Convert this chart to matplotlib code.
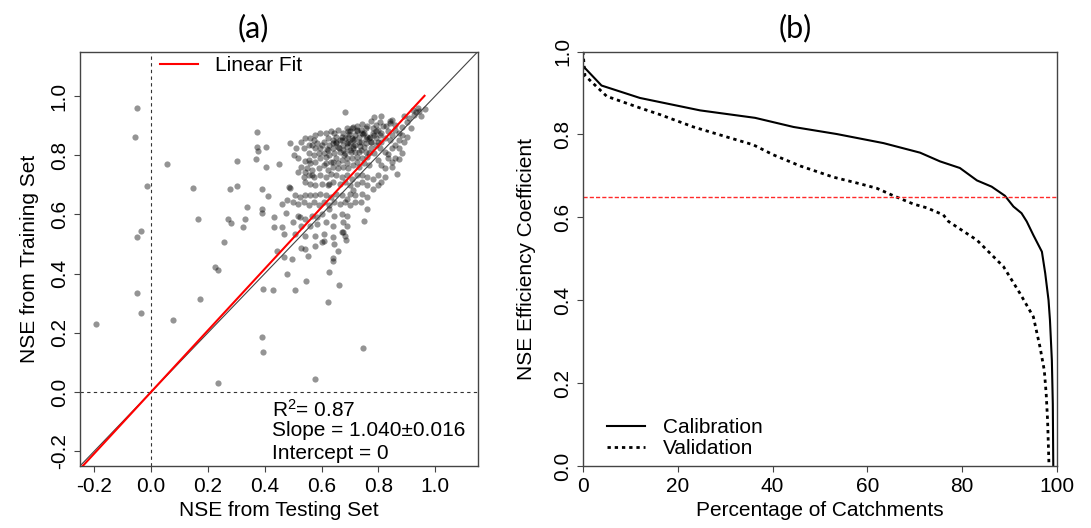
import numpy as np
import matplotlib
matplotlib.use("Agg")
import matplotlib.pyplot as plt

plt.rcParams['font.family'] = ['Liberation Sans', 'DejaVu Sans']
plt.rcParams['mathtext.fontset'] = 'custom'
plt.rcParams['mathtext.rm'] = 'Liberation Sans'

# NSE of catchments lying away from the main cloud (testing, training)
test_sparse = [-0.193, -0.048, -0.056, -0.013, -0.049, -0.037, -0.049, -0.034, 0.056, 0.076,
               0.149, 0.166, 0.173, 0.224, 0.234, 0.234, 0.255, 0.270, 0.277, 0.283,
               0.301, 0.304, 0.322, 0.329, 0.337, 0.368, 0.373, 0.373, 0.377, 0.389,
               0.389, 0.391, 0.391, 0.395, 0.395, 0.405, 0.405, 0.413, 0.429, 0.432,
               0.432, 0.444, 0.451, 0.459, 0.462, 0.476, 0.468, 0.480, 0.488, 0.490,
               0.495, 0.507, 0.502, 0.509, 0.517, 0.523, 0.527, 0.541, 0.544, 0.551,
               0.578, 0.578, 0.602, 0.609, 0.624, 0.627, 0.639, 0.639, 0.645, 0.657,
               0.661, 0.676, 0.685, 0.744, 0.749, 0.871]
train_sparse = [0.229, 0.958, 0.860, 0.696, 0.522, 0.543, 0.333, 0.268, 0.769, 0.243,
                0.690, 0.584, 0.315, 0.423, 0.411, 0.032, 0.507, 0.584, 0.687, 0.572,
                0.780, 0.695, 0.556, 0.584, 0.624, 0.787, 0.878, 0.826, 0.814, 0.618,
                0.605, 0.687, 0.186, 0.134, 0.349, 0.829, 0.761, 0.662, 0.343, 0.592,
                0.559, 0.476, 0.769, 0.559, 0.636, 0.605, 0.457, 0.399, 0.841, 0.689,
                0.448, 0.345, 0.801, 0.823, 0.789, 0.590, 0.487, 0.484, 0.374, 0.459,
                0.043, 0.493, 0.505, 0.511, 0.303, 0.404, 0.453, 0.442, 0.499, 0.476,
                0.362, 0.539, 0.514, 0.148, 0.579, 0.786]

# NSE of catchments in the main cloud (testing, training)
test_cluster = [0.682, 0.785, 0.810, 0.846, 0.840, 0.859, 0.889, 0.920, 0.938, 0.944,
                0.926, 0.950, 0.907, 0.932, 0.902, 0.883, 0.902, 0.871, 0.859, 0.840,
                0.822, 0.834, 0.816, 0.798, 0.773, 0.761, 0.743, 0.737, 0.724, 0.712,
                0.700, 0.688, 0.676, 0.657, 0.645, 0.633, 0.615, 0.596, 0.578, 0.560,
                0.541, 0.529, 0.539, 0.554, 0.566, 0.584, 0.596, 0.609, 0.621, 0.639,
                0.651, 0.670, 0.682, 0.694, 0.707, 0.719, 0.732, 0.750, 0.761, 0.780,
                0.793, 0.804, 0.810, 0.793, 0.773, 0.755, 0.737, 0.719, 0.700, 0.688,
                0.676, 0.657, 0.639, 0.621, 0.609, 0.627, 0.645, 0.663, 0.682, 0.700,
                0.719, 0.737, 0.755, 0.773, 0.785, 0.761, 0.743, 0.724, 0.706, 0.688,
                0.670, 0.651, 0.633, 0.615, 0.596, 0.578, 0.560, 0.541, 0.529,
                0.548, 0.566, 0.590, 0.609, 0.621, 0.639, 0.657, 0.676, 0.694, 0.712,
                0.730, 0.749, 0.767, 0.798, 0.810, 0.822, 0.846, 0.859, 0.846, 0.865,
                0.822, 0.798, 0.780, 0.761, 0.743, 0.724, 0.706, 0.688, 0.670, 0.651,
                0.633, 0.615, 0.596, 0.572, 0.554, 0.537, 0.517, 0.541, 0.560, 0.578,
                0.602, 0.621, 0.639, 0.663, 0.682, 0.700, 0.724, 0.743, 0.761, 0.780,
                0.798, 0.810, 0.743, 0.719, 0.700, 0.688, 0.670, 0.651, 0.633, 0.615,
                0.596, 0.578, 0.560, 0.541, 0.523, 0.505, 0.487, 0.478, 0.499, 0.517,
                0.539, 0.554, 0.572, 0.590, 0.609, 0.627, 0.645, 0.663, 0.682, 0.700,
                0.719, 0.761, 0.688, 0.670, 0.645, 0.627, 0.602, 0.584, 0.566, 0.541,
                0.517, 0.499, 0.529, 0.560, 0.584, 0.615, 0.639, 0.676, 0.688, 0.670,
                0.682, 0.468, 0.505, 0.541, 0.578, 0.609, 0.639,
                0.694, 0.707, 0.724, 0.743, 0.755, 0.767, 0.785, 0.798, 0.810, 0.822,
                0.834, 0.846, 0.828, 0.840, 0.807, 0.791, 0.780, 0.694, 0.712, 0.730,
                0.749, 0.712, 0.676, 0.651, 0.627, 0.602, 0.578, 0.572, 0.590, 0.615,
                0.639, 0.657, 0.688, 0.724, 0.767, 0.804, 0.846, 0.871, 0.883, 0.913,
                0.889, 0.871, 0.859, 0.541, 0.566, 0.554, 0.572, 0.554, 0.627, 0.712,
                0.737, 0.761, 0.834, 0.883, 0.962,
                0.665, 0.690, 0.715, 0.735, 0.705, 0.680, 0.660, 0.640, 0.620, 0.725,
                0.745, 0.770, 0.790, 0.695, 0.670, 0.650, 0.710, 0.730, 0.755, 0.775]
train_cluster = [0.945, 0.928, 0.932, 0.920, 0.909, 0.903, 0.932, 0.951, 0.960, 0.949,
                 0.937, 0.932, 0.926, 0.946, 0.912, 0.894, 0.863, 0.852, 0.835, 0.852,
                 0.812, 0.803, 0.897, 0.886, 0.915, 0.897, 0.905, 0.886, 0.897, 0.894,
                 0.880, 0.892, 0.875, 0.886, 0.875, 0.880, 0.875, 0.875, 0.869, 0.858,
                 0.858, 0.846, 0.823, 0.806, 0.835, 0.841, 0.823, 0.846, 0.858, 0.852,
                 0.863, 0.852, 0.858, 0.863, 0.858, 0.869, 0.863, 0.875, 0.863, 0.875,
                 0.858, 0.869, 0.846, 0.835, 0.846, 0.841, 0.846, 0.835, 0.841, 0.829,
                 0.835, 0.829, 0.823, 0.818, 0.806, 0.801, 0.806, 0.812, 0.806, 0.818,
                 0.812, 0.818, 0.812, 0.823, 0.806, 0.795, 0.789, 0.795, 0.789, 0.789,
                 0.784, 0.789, 0.778, 0.772, 0.789, 0.778, 0.772, 0.780, 0.761,
                 0.755, 0.749, 0.755, 0.766, 0.749, 0.761, 0.755, 0.761, 0.755, 0.766,
                 0.761, 0.772, 0.766, 0.784, 0.766, 0.755, 0.761, 0.789, 0.778, 0.738,
                 0.727, 0.732, 0.721, 0.727, 0.732, 0.732, 0.721, 0.732, 0.727, 0.732,
                 0.738, 0.727, 0.732, 0.727, 0.732, 0.727, 0.744, 0.710, 0.704, 0.698,
                 0.704, 0.698, 0.710, 0.704, 0.710, 0.698, 0.704, 0.710, 0.698, 0.687,
                 0.698, 0.710, 0.670, 0.664, 0.670, 0.653, 0.664, 0.670, 0.658, 0.664,
                 0.670, 0.664, 0.664, 0.664, 0.658, 0.664, 0.692, 0.647, 0.641, 0.636,
                 0.641, 0.630, 0.641, 0.630, 0.641, 0.630, 0.641, 0.636, 0.641, 0.630,
                 0.641, 0.658, 0.596, 0.601, 0.596, 0.618, 0.601, 0.590, 0.596, 0.584,
                 0.596, 0.573, 0.561, 0.561, 0.567, 0.573, 0.561, 0.573, 0.561, 0.539,
                 0.527, 0.533, 0.533, 0.527, 0.527, 0.533, 0.522,
                 0.880, 0.892, 0.886, 0.875, 0.892, 0.858, 0.869, 0.846, 0.875, 0.858,
                 0.880, 0.869, 0.897, 0.915, 0.913, 0.903, 0.892, 0.846, 0.852, 0.846,
                 0.829, 0.823, 0.818, 0.841, 0.835, 0.835, 0.823, 0.801, 0.806, 0.795,
                 0.778, 0.772, 0.772, 0.778, 0.806, 0.823, 0.823, 0.823, 0.869, 0.892,
                 0.846, 0.875, 0.886, 0.744, 0.732, 0.784, 0.852, 0.835, 0.704, 0.681,
                 0.641, 0.618, 0.789, 0.806, 0.955,
                 0.850, 0.840, 0.855, 0.830, 0.810, 0.800, 0.825, 0.840, 0.820, 0.880,
                 0.870, 0.860, 0.880, 0.870, 0.860, 0.845, 0.830, 0.810, 0.855, 0.845]

fit_slope = 1.040
fit_slope_err = 0.016
r_squared = 0.87

# sorted NSE against percentage of catchments
calib_pct = [0.0, 3.9, 12.0, 24.7, 36.3, 44.4, 53.5, 63.4, 71.1, 75.3, 79.5, 83.1,
             86.2, 89.0, 90.8, 92.5, 93.6, 95.0, 96.8, 97.5, 98.2, 98.5, 98.9, 99.1, 99.2]
calib_nse = [0.965, 0.918, 0.888, 0.858, 0.840, 0.818, 0.801, 0.779, 0.756, 0.735,
             0.719, 0.689, 0.674, 0.652, 0.626, 0.610, 0.590, 0.557, 0.517, 0.465,
             0.400, 0.352, 0.255, 0.150, 0.0]
valid_pct = [0.0, 0.4, 5.0, 12.0, 16.2, 23.3, 30.3, 35.9, 40.1, 45.8, 52.8, 58.4,
             62.0, 65.5, 69.7, 72.5, 76.0, 77.1, 83.1, 88.7, 92.2, 95.0, 96.4, 97.3,
             97.7, 98.0, 98.3]
valid_nse = [1.0, 0.942, 0.892, 0.864, 0.848, 0.818, 0.794, 0.775, 0.751, 0.724,
             0.697, 0.681, 0.670, 0.652, 0.632, 0.623, 0.606, 0.590, 0.545, 0.481,
             0.416, 0.360, 0.287, 0.231, 0.175, 0.110, 0.0]
nse_threshold = 0.65

FS = 15
fig = plt.figure(figsize=(10.91, 5.28), dpi=100)
ax1 = fig.add_axes([0.0733, 0.1174, 0.3648, 0.785])
ax2 = fig.add_axes([0.5344, 0.1174, 0.4345, 0.785])

for ax in (ax1, ax2):
    for sp in ax.spines.values():
        sp.set_color('#444444')
        sp.set_linewidth(1.0)
    ax.tick_params(direction='out', length=4, width=0.8, color='#444444',
                   labelsize=FS, pad=4)

# (a) training vs testing NSE
x = np.array(test_sparse + test_cluster)
y = np.array(train_sparse + train_cluster)
ax1.scatter(x, y, s=20, c='black', alpha=0.42, linewidths=0, zorder=2)
ax1.axline((0, 0), slope=1, color='#444444', lw=0.8, zorder=3)
ax1.axhline(0, color='#333333', lw=0.8, ls=(0, (3, 3)), zorder=1)
ax1.axvline(0, color='#333333', lw=0.8, ls=(0, (3, 3)), zorder=1)
xf = np.array([-0.25 / fit_slope, x.max()])
ax1.plot(xf, fit_slope * xf, color='red', lw=1.5, label='Linear Fit', zorder=4)
ax1.set_xlim(-0.25, 1.15)
ax1.set_ylim(-0.25, 1.15)
ticks = np.arange(-0.2, 1.01, 0.2)
ax1.set_xticks(ticks)
ax1.set_yticks(ticks)
ax1.set_xticklabels([f'{t:.1f}' for t in ticks])
ax1.set_yticklabels([f'{t:.1f}' for t in ticks], rotation=90, va='center')
ax1.set_xlabel('NSE from Testing Set', fontsize=FS)
ax1.set_ylabel('NSE from Training Set', fontsize=FS)
ax1.xaxis.set_label_coords(0.5, -0.085)
ax1.yaxis.set_label_coords(-0.103, 0.5)
ax1.legend(loc='center left', bbox_to_anchor=(0.2, 0.966), frameon=False,
           borderpad=0, borderaxespad=0, handlelength=1.84, handletextpad=0.82,
           fontsize=FS)
ax1.text(0.426, -0.059, r'$\mathregular{R^2}$= %.2f' % r_squared, fontsize=FS, va='center')
ax1.text(0.426, -0.131, f'Slope = {fit_slope:.3f}±{fit_slope_err:.3f}', fontsize=FS, va='center')
ax1.text(0.426, -0.208, 'Intercept = 0', fontsize=FS, va='center')

# (b) NSE exceedance curves
ax2.plot(calib_pct, calib_nse, color='black', lw=1.5, label='Calibration')
ax2.plot(valid_pct, valid_nse, color='black', lw=2.0, ls=(0, (1.2, 1.4)), label='Validation')
ax2.axhline(nse_threshold, color='#ff2a2a', lw=1.0, ls=(0, (3, 1.5)))
ax2.set_xlim(0, 100)
ax2.set_ylim(0, 1)
ax2.set_xticks(np.arange(0, 101, 20))
yt = np.arange(0, 1.01, 0.2)
ax2.set_yticks(yt)
ax2.set_yticklabels([f'{t:.1f}' for t in yt], rotation=90, va='center')
ax2.set_xlabel('Percentage of Catchments', fontsize=FS)
ax2.set_ylabel('NSE Efficiency Coefficient', fontsize=FS)
ax2.xaxis.set_label_coords(0.5, -0.085)
ax2.yaxis.set_label_coords(-0.1, 0.5)
ax2.legend(loc='center left', bbox_to_anchor=(0.05, 0.067), frameon=False,
           borderpad=0, borderaxespad=0, handlelength=1.84, handletextpad=0.88,
           labelspacing=0.1, fontsize=FS)

fig.text(253.5 / 1091, 1 - 28.6 / 528, '(a)', ha='center', va='center',
         fontsize=22, family=['Lato', 'DejaVu Sans'])
fig.text(795.6 / 1091, 1 - 28.6 / 528, '(b)', ha='center', va='center',
         fontsize=22, family=['Lato', 'DejaVu Sans'])

fig.savefig('out.png', dpi=100)
